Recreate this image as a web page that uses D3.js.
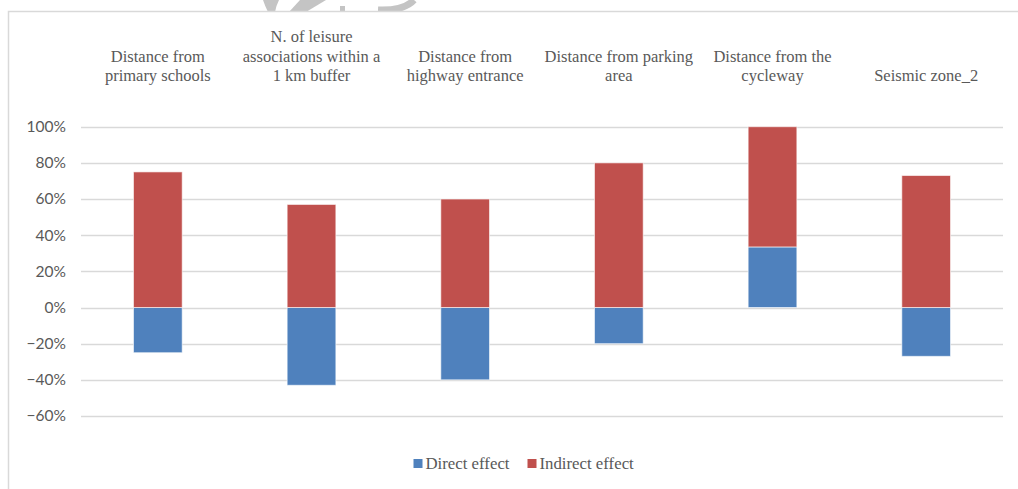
<!DOCTYPE html>
<html>
<head>
<meta charset="utf-8">
<script src="https://cdn.jsdelivr.net/npm/d3@7"></script>
<style>
  html, body { margin: 0; padding: 0; background: #fff; }
  svg { display: block; }
</style>
</head>
<body>
<svg id="chart" width="1018" height="489"></svg>
<script>
// Share of each variable's total effect, split into direct and indirect parts
const categories = [
  ["Distance from", "primary schools"],
  ["N. of leisure", "associations within a", "1 km buffer"],
  ["Distance from", "highway entrance"],
  ["Distance from parking", "area"],
  ["Distance from the", "cycleway"],
  ["Seismic zone_2"]
];
const directEffect   = [-0.25, -0.43, -0.40, -0.20, 0.335, -0.27];
const indirectEffect = [0.75, 0.57, 0.60, 0.80, 0.665, 0.73];
const yTicks = [-0.6, -0.4, -0.2, 0, 0.2, 0.4, 0.6, 0.8, 1.0];
const seriesNames = ["Direct effect", "Indirect effect"];

const colors = { direct: "#4F81BD", indirect: "#C0504D" };
const textColor = "#595959";
const gridColor = "#D9D9D9";

const svg = d3.select("#chart");

// faint page mark peeking out above the chart frame
const mark = svg.append("g").attr("fill", "#C4C4C4").attr("stroke", "none");
mark.append("path").attr("d", "M263,0 L279,0 Q276,6 275,12 L268,12 Q265,6 263,0 Z");
mark.append("path").attr("d", "M300,0 L326,0 L306,12 L289,12 Z");
mark.append("rect").attr("x", 340).attr("y", 6).attr("width", 5).attr("height", 6);
mark.append("path")
  .attr("d", "M378,10 Q404,11 414,0")
  .attr("fill", "none")
  .attr("stroke", "#C4C4C4")
  .attr("stroke-width", 7);

// chart frame (extends past the visible area on the right and bottom)
svg.append("rect")
  .attr("x", 8.5).attr("y", 11.5)
  .attr("width", 1030).attr("height", 500)
  .attr("fill", "#fff")
  .attr("stroke", gridColor)
  .attr("stroke-width", 1.5);

const x = d3.scaleBand()
  .domain(d3.range(categories.length))
  .range([81, 1003])
  .paddingInner(0.683)
  .paddingOuter(0.3415);

const y = d3.scaleLinear()
  .domain([-0.6, 1.0])
  .range([416, 126.7]);

// horizontal gridlines
svg.append("g")
  .selectAll("line")
  .data(yTicks)
  .join("line")
  .attr("x1", 81).attr("x2", 1003)
  .attr("y1", d => Math.round(y(d)) + 0.5)
  .attr("y2", d => Math.round(y(d)) + 0.5)
  .attr("stroke", gridColor)
  .attr("stroke-width", 1.5);

// y axis labels
const yAxis = d3.axisLeft(y)
  .tickValues(yTicks)
  .tickFormat(d3.format(".0%"))
  .tickSize(0)
  .tickPadding(0);

const yg = svg.append("g")
  .attr("transform", "translate(66,0)")
  .call(yAxis);
yg.select(".domain").remove();
yg.selectAll("text")
  .attr("fill", textColor)
  .attr("font-family", "Lato, 'Liberation Sans', sans-serif")
  .attr("font-size", "15.5px");

// stacked bars: negative values grow down from zero, positive values stack upward
const rows = categories.map((c, i) => {
  const d = directEffect[i], ind = indirectEffect[i];
  const segs = [];
  let posBase = 0;
  if (d >= 0) { segs.push({ key: "direct", y0: 0, y1: d }); posBase = d; }
  else segs.push({ key: "direct", y0: d, y1: 0 });
  segs.push({ key: "indirect", y0: posBase, y1: posBase + ind });
  return { i, segs };
});

svg.append("g")
  .selectAll("g")
  .data(rows)
  .join("g")
  .selectAll("rect")
  .data(r => r.segs.map(s => ({ ...s, i: r.i })))
  .join("rect")
  .attr("x", d => x(d.i))
  .attr("width", x.bandwidth())
  .attr("y", d => y(d.y1))
  .attr("height", d => y(d.y0) - y(d.y1))
  .attr("fill", d => colors[d.key])
  .attr("stroke", "#fff")
  .attr("stroke-opacity", 0.6)
  .attr("stroke-width", 1);

// category labels along the top, bottom-aligned
const lineH = 19.5;
const lastBaseline = 81;
const catG = svg.append("g")
  .attr("font-family", "'Liberation Serif', 'DejaVu Serif', serif")
  .attr("font-size", "16.5px")
  .attr("fill", textColor)
  .attr("text-anchor", "middle");

categories.forEach((lines, i) => {
  const cx = x(i) + x.bandwidth() / 2;
  lines.forEach((ln, j) => {
    catG.append("text")
      .attr("x", cx)
      .attr("y", lastBaseline - (lines.length - 1 - j) * lineH)
      .text(ln);
  });
});

// legend
const legendItems = [
  { name: seriesNames[0], color: colors.direct, x: 413.5 },
  { name: seriesNames[1], color: colors.indirect, x: 527.5 }
];
const lg = svg.append("g");
legendItems.forEach(it => {
  lg.append("rect")
    .attr("x", it.x).attr("y", 459)
    .attr("width", 9).attr("height", 9)
    .attr("fill", it.color);
  lg.append("text")
    .attr("x", it.x + 12).attr("y", 468.5)
    .attr("font-family", "'Liberation Serif', 'DejaVu Serif', serif")
    .attr("font-size", "16.8px")
    .attr("fill", textColor)
    .text(it.name);
});
</script>
</body>
</html>
